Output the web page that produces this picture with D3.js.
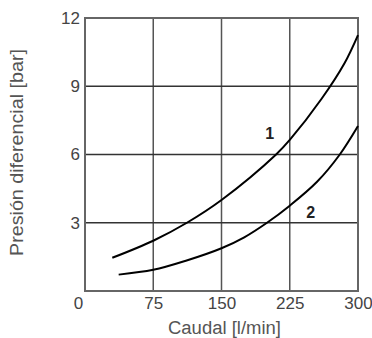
<!DOCTYPE html>
<html><head><meta charset="utf-8">
<script src="https://cdn.jsdelivr.net/npm/d3@7"></script>
<style>
body{margin:0;background:#fff;}
svg{display:block;}
.tick text{font-family:"Liberation Sans Narrow","Arial Narrow","Liberation Sans",Arial,sans-serif;font-size:17px;fill:#444;}
</style></head>
<body>
<svg id="c" width="372" height="338"></svg>
<script>
const xTicks = [0, 75, 150, 225, 300];
const yTicks = [3, 6, 9, 12];
const curve1X = [30, 75, 112, 150, 210, 225, 260, 285, 300];
const curve1Y = [1.46, 2.21, 3.0, 4.0, 6.0, 6.64, 8.45, 10.0, 11.25];
const curve2X = [37, 75, 110, 150, 175, 200, 225, 255, 280, 300];
const curve2Y = [0.72, 0.93, 1.32, 1.88, 2.36, 3.0, 3.75, 4.8, 6.0, 7.25];
const labels = [{t:"1", x:203, y:6.68}, {t:"2", x:248, y:3.2}];

const svg = d3.select("#c");
const m = {l:85, t:18, w:273, h:273};
const x = d3.scaleLinear().domain([0,300]).range([m.l, m.l+m.w]);
const y = d3.scaleLinear().domain([0,12]).range([m.t+m.h, m.t]);

// grid
svg.append("g").selectAll("line").data(xTicks.slice(1,-1)).join("line")
  .attr("x1", d=>x(d)).attr("x2", d=>x(d)).attr("y1", y(0)).attr("y2", y(12))
  .attr("stroke", "#555").attr("stroke-width", 1.5);
svg.append("g").selectAll("line").data(yTicks.slice(0,-1)).join("line")
  .attr("y1", d=>y(d)).attr("y2", d=>y(d)).attr("x1", x(0)).attr("x2", x(300))
  .attr("stroke", "#333").attr("stroke-width", 1.5);

// axes
const xa = svg.append("g").attr("transform", `translate(0,${y(0)})`)
  .call(d3.axisBottom(x).tickValues(xTicks).tickSize(0).tickPadding(6));
xa.select(".domain").remove();
xa.selectAll(".tick text").filter(d=>d===0).attr("dx", -7);
const ya = svg.append("g").attr("transform", `translate(${x(0)},0)`)
  .call(d3.axisLeft(y).tickValues(yTicks).tickSize(0).tickPadding(5));
ya.select(".domain").remove();

// frame
svg.append("rect").attr("x", x(0)).attr("y", y(12)).attr("width", x(300)-x(0)).attr("height", y(0)-y(12))
  .attr("fill", "none").attr("stroke", "#666").attr("stroke-width", 2);

// curves
const line = d3.line().x(d=>x(d[0])).y(d=>y(d[1])).curve(d3.curveCatmullRom.alpha(0.5));
[[curve1X, curve1Y], [curve2X, curve2Y]].forEach(([xs, ys]) => {
  svg.append("path").datum(xs.map((v,i)=>[v, ys[i]])).attr("d", line)
    .attr("fill", "none").attr("stroke", "#000").attr("stroke-width", 2);
});

// curve labels
svg.selectAll(".lbl").data(labels).join("text").attr("class","lbl")
  .attr("x", d=>x(d.x)).attr("y", d=>y(d.y)).attr("text-anchor","middle")
  .attr("font-family","Liberation Sans, Arial, sans-serif").attr("font-weight","bold")
  .attr("font-size", 16).attr("fill", "#222").text(d=>d.t);

// axis titles
svg.append("text").attr("x", (x(0)+x(300))/2 + 3).attr("y", 334).attr("text-anchor","middle")
  .attr("font-family","Liberation Sans, Arial, sans-serif").attr("font-size", 18).attr("fill","#555")
  .attr("textLength", 113).attr("lengthAdjust","spacingAndGlyphs")
  .text("Caudal [l/min]");
svg.append("text").attr("transform", "translate(23,152.5) rotate(-90)").attr("text-anchor","middle")
  .attr("font-family","Liberation Sans, Arial, sans-serif").attr("font-size", 18).attr("fill","#555")
  .attr("textLength", 207).attr("lengthAdjust","spacingAndGlyphs")
  .text("Presión diferencial [bar]");
</script>
</body></html>
